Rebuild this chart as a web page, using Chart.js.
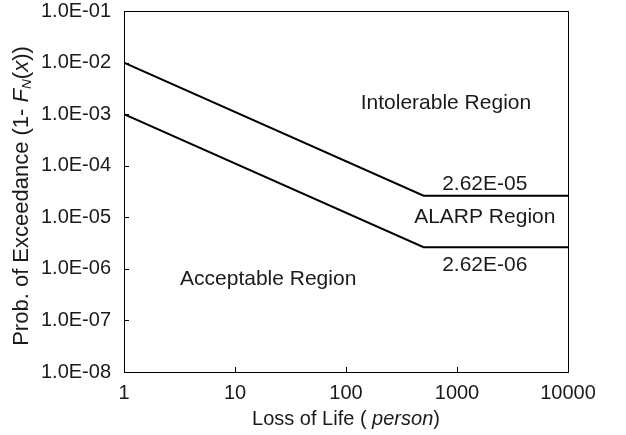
<!DOCTYPE html>
<html><head><meta charset="utf-8">
<script src="https://cdn.jsdelivr.net/npm/chart.js@4.4.1/dist/chart.umd.min.js"></script>
<style>html,body{margin:0;padding:0;background:#fff;}#wrap{width:626px;height:435px;}</style>
</head><body><div id="wrap"><canvas id="c" width="626" height="435"></canvas></div>
<script>
const xTicks = [1, 10, 100, 1000, 10000];
const xTickLabels = ['1', '10', '100', '1000', '10000'];
const yTicks = [1e-8, 1e-7, 1e-6, 1e-5, 1e-4, 1e-3, 1e-2, 1e-1];
const yTickLabels = ['1.0E-08', '1.0E-07', '1.0E-06', '1.0E-05', '1.0E-04', '1.0E-03', '1.0E-02', '1.0E-01'];
const upperX = [1, 500, 10000];
const upperY = [1e-2, 2.62e-5, 2.62e-5];
const lowerX = [1, 500, 10000];
const lowerY = [1e-3, 2.62e-6, 2.62e-6];
const annoText = ['Intolerable Region', '2.62E-05', 'ALARP Region', '2.62E-06', 'Acceptable Region'];
const annoX = [795, 1780, 1780, 1780, 19.9];
const annoY = [1.65e-3, 4.3e-5, 1.0e-5, 1.2e-6, 6.4e-7];

const FONT = '"Liberation Sans", Arial, Helvetica, sans-serif';
const TXT = '#1a1a1a';

function pts(xs, ys) { return xs.map((x, i) => ({x: x, y: ys[i]})); }

function drawRich(ctx, parts, size) {
  let total = 0;
  const ws = parts.map(p => {
    const s = p[2] ? size * 0.62 : size;
    ctx.font = (p[1] === 'i' ? 'italic ' : '') + s + 'px ' + FONT;
    const w = ctx.measureText(p[0]).width;
    total += w; return w;
  });
  let x = -total / 2;
  parts.forEach((p, i) => {
    const s = p[2] ? size * 0.62 : size;
    ctx.font = (p[1] === 'i' ? 'italic ' : '') + s + 'px ' + FONT;
    ctx.fillText(p[0], x, p[2] ? size * 0.22 : 0);
    x += ws[i];
  });
}

const deco = {
  id: 'deco',
  afterDraw(chart) {
    const ctx = chart.ctx, a = chart.chartArea;
    const xs = chart.scales.x, ys = chart.scales.y;
    ctx.save();
    ctx.strokeStyle = '#000';
    ctx.lineWidth = 1;
    ctx.strokeRect(Math.round(a.left) + 0.5, Math.round(a.top) + 0.5, Math.round(a.right - a.left), Math.round(a.bottom - a.top));
    ctx.beginPath();
    xTicks.forEach(v => {
      const px = Math.round(xs.getPixelForValue(v)) + 0.5;
      ctx.moveTo(px, a.bottom); ctx.lineTo(px, a.bottom - 5);
    });
    yTicks.forEach(v => {
      const py = Math.round(ys.getPixelForValue(v)) + 0.5;
      ctx.moveTo(a.left, py); ctx.lineTo(a.left + 5, py);
    });
    ctx.stroke();
    ctx.fillStyle = TXT;
    ctx.textAlign = 'center';
    ctx.textBaseline = 'middle';
    ctx.font = '21px ' + FONT;
    annoText.forEach((t, i) => {
      ctx.fillText(t, xs.getPixelForValue(annoX[i]), ys.getPixelForValue(annoY[i]));
    });
    ctx.textAlign = 'left';
    ctx.save();
    ctx.translate((a.left + a.right) / 2, 419);
    drawRich(ctx, [['Loss of Life ( ', 'n'], ['person', 'i'], [')', 'n']], 20);
    ctx.restore();
    ctx.save();
    ctx.translate(22, 196);
    ctx.rotate(-Math.PI / 2);
    drawRich(ctx, [['Prob. of Exceedance (1- ', 'n'], ['F', 'i'], ['N', 'i', true], ['(', 'n'], ['x', 'i'], ['))', 'n']], 22);
    ctx.restore();
    ctx.restore();
  }
};

new Chart(document.getElementById('c'), {
  type: 'scatter',
  data: {
    datasets: [
      {data: pts(upperX, upperY), showLine: true, borderColor: '#000', borderWidth: 2, pointRadius: 0, tension: 0},
      {data: pts(lowerX, lowerY), showLine: true, borderColor: '#000', borderWidth: 2, pointRadius: 0, tension: 0}
    ]
  },
  options: {
    responsive: false,
    animation: false,
    devicePixelRatio: 1,
    layout: {padding: {left: 0, top: 11, right: 58, bottom: 0}},
    plugins: {legend: {display: false}, tooltip: {enabled: false}},
    scales: {
      x: {
        type: 'logarithmic', min: 1, max: 10000,
        afterBuildTicks: s => { s.ticks = xTicks.map(v => ({value: v})); },
        afterFit: s => { s.height = 63; s.paddingLeft = 0; s.paddingRight = 0; },
        grid: {display: false, drawTicks: false},
        border: {display: false},
        ticks: {
          autoSkip: false, maxRotation: 0, padding: 9, color: TXT,
          font: {family: FONT, size: 20},
          callback: v => xTickLabels[xTicks.indexOf(v)]
        }
      },
      y: {
        type: 'logarithmic', min: 1e-8, max: 1e-1,
        afterBuildTicks: s => { s.ticks = yTicks.map(v => ({value: v})); },
        afterFit: s => { s.width = 124; s.paddingTop = 0; s.paddingBottom = 0; },
        grid: {display: false, drawTicks: false},
        border: {display: false},
        ticks: {
          autoSkip: false, padding: 13, color: TXT,
          font: {family: FONT, size: 20},
          callback: v => yTickLabels[yTicks.indexOf(v)]
        }
      }
    }
  },
  plugins: [deco]
});
</script></body></html>
